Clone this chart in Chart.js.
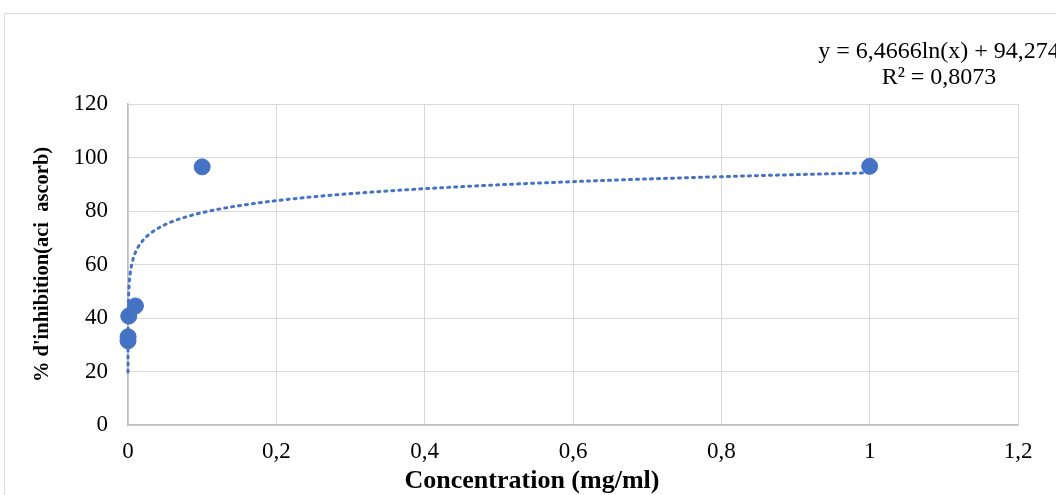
<!DOCTYPE html>
<html>
<head>
<meta charset="utf-8">
<script src="https://cdn.jsdelivr.net/npm/chart.js@4"></script>
<style>
  body { margin: 0; background: #fff; }
  #wrap { width: 1056px; height: 495px; }
</style>
</head>
<body>
<div id="wrap"><canvas id="chartCanvas" width="1056" height="495"></canvas></div>
<script>
// measured points
const concentrations = [0.00001, 0.0001, 0.001, 0.01, 0.1, 1];
const inhibition = [31.5, 33, 40.7, 44.5, 96.5, 96.7];
const xTicks = [0, 0.2, 0.4, 0.6, 0.8, 1, 1.2];
const yTicks = [0, 20, 40, 60, 80, 100, 120];

// log trendline as shown on the chart
const slope = 6.4666;
const intercept = 94.274;
const trendLabel = ['y = 6,4666ln(x) + 94,274', 'R² = 0,8073'];
const xTitle = 'Concentration (mg/ml)';

const blue = '#4472C4';
const serif = '"Liberation Serif", "Times New Roman", serif';

// sample the fitted curve between the smallest and largest x
const trend = [];
const xMin = Math.min(...concentrations), xMax = Math.max(...concentrations);
for (let i = 0; i <= 400; i++) {
    const x = xMin * Math.pow(xMax / xMin, Math.pow(i / 400, 0.35));
    trend.push({ x: x, y: slope * Math.log(x) + intercept });
}

const frame = {
    id: 'frame',
    beforeDraw(chart) {
        const c = chart.ctx;
        c.save();
        c.fillStyle = '#fff';
        c.fillRect(0, 0, chart.width, chart.height);
        c.strokeStyle = '#d9d9d9';
        c.lineWidth = 1;
        c.strokeRect(4.5, 13.5, 1200, 600);
        c.restore();
    },
    afterDraw(chart) {
        const c = chart.ctx;
        c.save();
        c.fillStyle = '#000';
        c.textAlign = 'center';
        c.textBaseline = 'middle';
        c.font = '24px ' + serif;
        c.fillText(trendLabel[0], 939, 52);
        c.fillText(trendLabel[1], 939, 78);
        // x axis title sits a bit left of the plot centre in the original
        c.font = 'bold 26px ' + serif;
        c.fillText(xTitle, 532, 481);
        c.restore();
    }
};

new Chart(document.getElementById('chartCanvas').getContext('2d'), {
    type: 'scatter',
    data: {
        datasets: [{
            label: 'trend',
            type: 'line',
            data: trend,
            borderColor: blue,
            borderWidth: 3,
            borderDash: [2, 5],
            borderCapStyle: 'round',
            pointRadius: 0,
            fill: false,
            tension: 0,
            clip: false
        }, {
            label: 'points',
            data: concentrations.map((x, i) => ({ x: x, y: inhibition[i] })),
            backgroundColor: blue,
            borderColor: blue,
            pointRadius: 8,
            pointHoverRadius: 8,
            clip: false
        }]
    },
    options: {
        responsive: false,
        animation: false,
        layout: { padding: { left: 0, top: 104, right: 38, bottom: 0 } },
        plugins: { legend: { display: false }, tooltip: { enabled: false } },
        scales: {
            x: {
                type: 'linear',
                min: 0, max: 1.2,
                afterBuildTicks: axis => { axis.ticks = xTicks.map(v => ({ value: v })); },
                afterFit: axis => { axis.height = 70; },
                grid: { color: '#d9d9d9', drawTicks: false },
                border: { color: '#bfbfbf', width: 1.5 },
                ticks: {
                    padding: 13,
                    maxRotation: 0,
                    color: '#000',
                    font: { family: serif, size: 23 },
                    callback: v => String(Math.round(v * 10) / 10).replace('.', ',')
                },
                title: { display: false }
            },
            y: {
                min: 0, max: 120,
                afterBuildTicks: axis => { axis.ticks = yTicks.map(v => ({ value: v })); },
                afterFit: axis => { axis.width = 128; },
                grid: { color: '#d9d9d9', drawTicks: false },
                border: { color: '#bfbfbf', width: 1.5 },
                ticks: {
                    padding: 20,
                    color: '#000',
                    font: { family: serif, size: 23 }
                },
                title: {
                    display: true,
                    text: '% d\'inhibition(aci  ascorb)',
                    color: '#000',
                    font: { family: serif, size: 20.5, weight: 'bold' },
                    padding: { top: 30, bottom: 0 }
                }
            }
        }
    },
    plugins: [frame]
});
</script>
</body>
</html>
